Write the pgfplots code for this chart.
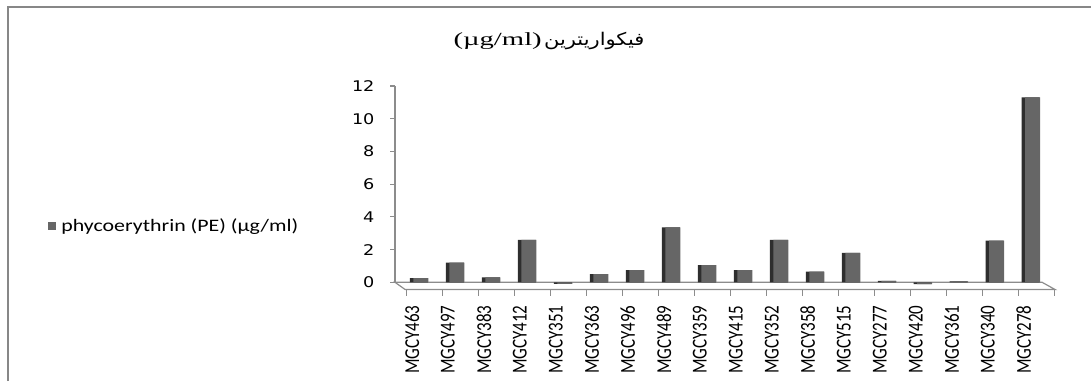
\documentclass[border=0pt]{standalone}
\usepackage{fontspec}
\usepackage{graphicx}
\usepackage{pgfplots}
\usepackage{pgfplotstable}
\pgfplotsset{compat=1.18}
\TeXXeTstate=1
\setmainfont{Carlito}
\newfontfamily\tickfont[FakeStretch=1.2]{DejaVu Sans}
\newfontfamily\legendfont[FakeStretch=1.25]{Carlito}
\newfontfamily\titlefont[FakeStretch=1.55]{Liberation Serif}
\newfontfamily\arabicfont[Script=Arabic,FakeStretch=1.2]{DejaVu Sans}
\newcommand\xl[1]{\scalebox{1}[1.25]{#1}}
\definecolor{barface}{HTML}{666666}
\definecolor{barside}{HTML}{2E2E2E}
\definecolor{axisgray}{HTML}{8C8C8C}
\definecolor{framegray}{HTML}{878787}

% phycoerythrin content per strain (µg/ml)
\pgfplotstableread{
idx strain  pe
0   MGCY463 0.25
1   MGCY497 1.20
2   MGCY383 0.30
3   MGCY412 2.60
4   MGCY351 -0.10
5   MGCY363 0.50
6   MGCY496 0.75
7   MGCY489 3.35
8   MGCY359 1.05
9   MGCY415 0.75
10  MGCY352 2.60
11  MGCY358 0.65
12  MGCY515 1.80
13  MGCY277 0.08
14  MGCY420 -0.12
15  MGCY361 0.05
16  MGCY340 2.55
17  MGCY278 11.30
}\petable

\begin{document}
\begin{tikzpicture}[x=1pt,y=1pt]
\useasboundingbox (0,0) rectangle (1091,381);
% chart area border
\draw[framegray, line width=2pt] (7.5,0) -- (7.5,373.5) -- (1091,373.5);
% title
\node at (549,340) {{\titlefont\fontsize{18.5}{20}\selectfont (µg/ml)} {\arabicfont\fontsize{17.5}{20}\selectfont\beginR فيكواريترين\endR}};
\begin{axis}[
  at={(395pt,84pt)}, anchor=south west,
  width=660pt, height=211pt, scale only axis,
  xmin=-0.72, xmax=17.62, ymin=-0.9, ymax=12,
  clip=false,
  axis line style={draw=none},
  ybar,
  ytick={0,2,...,12}, ytick pos=left,
  tick align=outside, major tick length=5pt,
  ytick style={axisgray, line width=1.2pt},
  yticklabel style={font=\tickfont\fontsize{14.7}{16}\selectfont, xshift=-12pt},
  /pgf/number format/assume math mode=true,
  xtick={0,...,17}, xtick style={draw=none},
  xticklabels={\xl{MGCY463},\xl{MGCY497},\xl{MGCY383},\xl{MGCY412},\xl{MGCY351},\xl{MGCY363},\xl{MGCY496},\xl{MGCY489},\xl{MGCY359},\xl{MGCY415},\xl{MGCY352},\xl{MGCY358},\xl{MGCY515},\xl{MGCY277},\xl{MGCY420},\xl{MGCY361},\xl{MGCY340},\xl{MGCY278}},
  xticklabel style={rotate=90, anchor=east, font=\fontsize{17}{18}\selectfont, yshift=9pt},
  legend style={draw=none, fill=none, at={(-0.53,0.336)}, anchor=west,
    font=\legendfont\fontsize{17.5}{18}\selectfont},
  legend image code/.code={\fill[barface] (0pt,-4pt) rectangle (8pt,4pt);},
]
% floor and back wall edge
\draw[axisgray, line width=1.2pt] (axis cs:-0.72,12) -- (axis cs:-0.72,0);
\draw[axisgray, line width=1.2pt] (axis cs:-0.72,0) -- (axis cs:-0.44,-0.44) -- (axis cs:17.62,-0.44) -- (axis cs:17.26,0) -- cycle;
\pgfplotsinvokeforeach{-0.39,0.61,1.61,2.61,3.61,4.61,5.61,6.61,7.61,8.61,9.61,10.61,11.61,12.61,13.61,14.61,15.61,16.61,17.61}{\draw[axisgray, line width=1.2pt] (axis cs:#1,-0.44) -- (axis cs:#1,-0.84);}
% dark side faces
\addplot[fill=barside, draw=none, bar width=18pt, bar shift=-2pt, forget plot] table[x=idx, y=pe] {\petable};
% front faces
\addplot[fill=barface, draw=none, bar width=15pt, bar shift=0pt] table[x=idx, y=pe] {\petable};
\addlegendentry{\hspace{3pt}phycoerythrin (PE) (µg/ml)}
\end{axis}
\end{tikzpicture}
\end{document}
